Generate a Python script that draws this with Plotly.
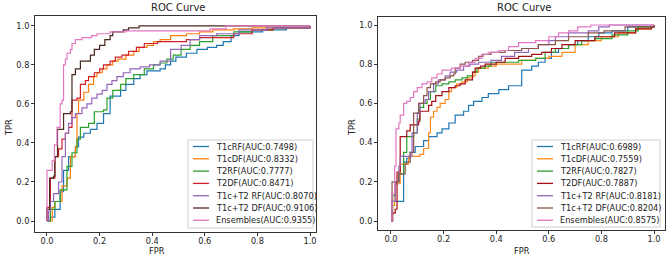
import plotly.graph_objects as go

W, H = 669, 258
FONT = "DejaVu Sans"

# ---------------- data (left panel) ----------------
L_T1cRF_fpr = [0, 0.013, 0.03, 0.05, 0.063, 0.082, 0.108, 0.12, 0.14, 0.165, 0.19, 0.215, 0.24, 0.26, 0.28, 0.30, 0.33, 0.354, 0.38, 0.43, 0.45, 0.47, 0.49, 0.53, 0.57, 0.61, 0.645, 0.67, 0.70, 0.73, 0.82, 0.91, 1.0]
L_T1cRF_tpr = [0, 0.02, 0.06, 0.15, 0.26, 0.33, 0.38, 0.43, 0.45, 0.47, 0.50, 0.55, 0.64, 0.64, 0.67, 0.70, 0.73, 0.75, 0.77, 0.78, 0.80, 0.82, 0.84, 0.86, 0.88, 0.89, 0.90, 0.92, 0.95, 0.97, 0.98, 0.99, 1.0]

L_T1cDF_fpr = [0, 0.02, 0.03, 0.057, 0.076, 0.089, 0.108, 0.114, 0.12, 0.14, 0.158, 0.177, 0.19, 0.21, 0.228, 0.25, 0.27, 0.30, 0.33, 0.35, 0.38, 0.405, 0.43, 0.47, 0.53, 0.58, 0.63, 0.71, 0.78, 1.0]
L_T1cDF_tpr = [0, 0.07, 0.10, 0.18, 0.22, 0.33, 0.38, 0.55, 0.62, 0.66, 0.70, 0.74, 0.76, 0.78, 0.80, 0.82, 0.83, 0.85, 0.87, 0.89, 0.90, 0.92, 0.93, 0.95, 0.96, 0.97, 0.98, 0.985, 0.99, 1.0]

L_T2RF_fpr = [0, 0.013, 0.03, 0.05, 0.076, 0.095, 0.114, 0.127, 0.158, 0.18, 0.215, 0.228, 0.25, 0.28, 0.30, 0.33, 0.37, 0.405, 0.43, 0.456, 0.48, 0.51, 0.544, 0.58, 0.63, 0.71, 0.78, 0.86, 1.0]
L_T2RF_tpr = [0, 0.06, 0.10, 0.16, 0.28, 0.35, 0.42, 0.48, 0.50, 0.56, 0.57, 0.63, 0.67, 0.70, 0.73, 0.75, 0.78, 0.80, 0.81, 0.83, 0.85, 0.88, 0.90, 0.92, 0.95, 0.97, 0.98, 0.99, 1.0]

L_T2DF_fpr = [0, 0, 0.013, 0.03, 0.044, 0.057, 0.07, 0.082, 0.095, 0.114, 0.127, 0.146, 0.158, 0.18, 0.20, 0.215, 0.24, 0.26, 0.285, 0.31, 0.34, 0.37, 0.42, 0.53, 0.58, 0.71, 0.78, 0.86, 1.0]
L_T2DF_tpr = [0, 0.07, 0.22, 0.33, 0.37, 0.42, 0.45, 0.48, 0.62, 0.63, 0.70, 0.72, 0.74, 0.76, 0.78, 0.80, 0.82, 0.84, 0.85, 0.87, 0.89, 0.91, 0.92, 0.93, 0.94, 0.96, 0.98, 0.99, 1.0]

L_T1cT2RF_fpr = [0, 0.006, 0.013, 0.025, 0.044, 0.057, 0.07, 0.082, 0.095, 0.108, 0.133, 0.152, 0.17, 0.19, 0.21, 0.228, 0.247, 0.266, 0.29, 0.316, 0.354, 0.39, 0.43, 0.47, 0.51, 0.544, 0.58, 0.645, 0.73, 0.835, 1.0]
L_T1cT2RF_tpr = [0, 0.05, 0.10, 0.14, 0.20, 0.33, 0.45, 0.50, 0.53, 0.55, 0.58, 0.60, 0.63, 0.65, 0.67, 0.70, 0.72, 0.74, 0.76, 0.78, 0.79, 0.80, 0.82, 0.88, 0.90, 0.93, 0.95, 0.96, 0.98, 0.99, 1.0]

L_T1cT2DF_fpr = [0, 0, 0.01, 0.025, 0.03, 0.04, 0.063, 0.089, 0.095, 0.108, 0.127, 0.152, 0.165, 0.18, 0.20, 0.22, 0.24, 0.25, 0.29, 0.31, 0.35, 1.0]
L_T1cT2DF_tpr = [0, 0.06, 0.22, 0.23, 0.33, 0.47, 0.55, 0.56, 0.75, 0.78, 0.82, 0.82, 0.85, 0.88, 0.90, 0.93, 0.95, 0.97, 0.98, 0.99, 1.0, 1.0]

L_Ens_fpr = [0, 0, 0.02, 0.028, 0.038, 0.05, 0.057, 0.063, 0.07, 0.076, 0.089, 0.095, 0.108, 0.133, 0.17, 0.19, 0.24, 0.30, 0.62, 0.68, 1.0]
L_Ens_tpr = [0, 0.26, 0.31, 0.39, 0.48, 0.60, 0.62, 0.80, 0.83, 0.86, 0.88, 0.91, 0.93, 0.94, 0.95, 0.96, 0.97, 0.975, 0.985, 1.0, 1.0]

# ---------------- data (right panel) ----------------
R_T1cRF_fpr = [0, 0.004, 0.048, 0.06, 0.073, 0.092, 0.124, 0.143, 0.175, 0.194, 0.22, 0.244, 0.276, 0.295, 0.314, 0.346, 0.37, 0.41, 0.447, 0.497, 0.535, 0.56, 0.586, 0.61, 0.637, 0.675, 0.71, 0.75, 0.79, 0.84, 0.90, 1.0]
R_T1cRF_tpr = [0, 0.10, 0.30, 0.32, 0.35, 0.38, 0.41, 0.43, 0.45, 0.47, 0.50, 0.54, 0.56, 0.59, 0.61, 0.63, 0.65, 0.67, 0.69, 0.77, 0.79, 0.81, 0.83, 0.86, 0.88, 0.90, 0.92, 0.94, 0.96, 0.97, 0.99, 1.0]

R_T1cDF_fpr = [0, 0.006, 0.014, 0.035, 0.067, 0.11, 0.124, 0.143, 0.15, 0.162, 0.175, 0.187, 0.206, 0.22, 0.23, 0.25, 0.27, 0.29, 0.31, 0.32, 0.333, 0.37, 0.40, 0.497, 0.55, 0.60, 0.65, 0.70, 0.75, 0.80, 0.865, 0.93, 0.99, 1.0]
R_T1cDF_tpr = [0, 0.08, 0.19, 0.29, 0.33, 0.34, 0.37, 0.45, 0.53, 0.56, 0.58, 0.60, 0.62, 0.66, 0.68, 0.70, 0.71, 0.73, 0.74, 0.76, 0.78, 0.79, 0.80, 0.82, 0.83, 0.84, 0.86, 0.90, 0.92, 0.94, 0.96, 0.98, 0.99, 1.0]

R_T2RF_fpr = [0, 0.006, 0.016, 0.03, 0.048, 0.06, 0.086, 0.10, 0.11, 0.124, 0.137, 0.15, 0.17, 0.194, 0.22, 0.244, 0.27, 0.29, 0.31, 0.327, 0.358, 0.38, 0.485, 0.55, 0.586, 0.625, 0.675, 0.725, 0.775, 0.84, 0.90, 0.94, 1.0]
R_T2RF_tpr = [0, 0.13, 0.20, 0.24, 0.35, 0.43, 0.45, 0.52, 0.58, 0.60, 0.62, 0.66, 0.69, 0.70, 0.71, 0.72, 0.73, 0.74, 0.76, 0.78, 0.79, 0.81, 0.82, 0.83, 0.86, 0.88, 0.90, 0.92, 0.93, 0.95, 0.97, 0.99, 1.0]

R_T2DF_fpr = [0, 0.006, 0.016, 0.023, 0.035, 0.06, 0.073, 0.105, 0.11, 0.143, 0.155, 0.17, 0.194, 0.22, 0.244, 0.263, 0.282, 0.31, 0.32, 0.34, 0.358, 0.40, 0.434, 0.485, 0.535, 0.573, 0.61, 0.65, 0.70, 0.775, 0.85, 0.93, 0.99, 1.0]
R_T2DF_tpr = [0, 0.04, 0.06, 0.25, 0.43, 0.46, 0.49, 0.51, 0.56, 0.59, 0.61, 0.64, 0.66, 0.68, 0.69, 0.70, 0.72, 0.76, 0.78, 0.79, 0.80, 0.81, 0.83, 0.84, 0.85, 0.86, 0.88, 0.90, 0.92, 0.94, 0.96, 0.98, 0.99, 1.0]

R_T1cT2RF_fpr = [0, 0.004, 0.016, 0.03, 0.035, 0.08, 0.10, 0.11, 0.13, 0.143, 0.162, 0.18, 0.206, 0.225, 0.25, 0.276, 0.30, 0.333, 0.38, 0.42, 0.47, 0.523, 0.56, 0.60, 0.625, 0.675, 0.75, 0.79, 0.83, 1.0]
R_T1cT2RF_tpr = [0, 0.10, 0.20, 0.28, 0.33, 0.45, 0.55, 0.60, 0.62, 0.66, 0.70, 0.72, 0.74, 0.76, 0.77, 0.79, 0.80, 0.81, 0.82, 0.84, 0.86, 0.88, 0.90, 0.92, 0.94, 0.96, 0.97, 0.99, 1.0, 1.0]

R_T1cT2DF_fpr = [0, 0.004, 0.03, 0.054, 0.06, 0.073, 0.086, 0.105, 0.124, 0.137, 0.15, 0.17, 0.187, 0.206, 0.225, 0.238, 0.244, 0.263, 0.282, 0.31, 0.333, 0.35, 0.38, 0.434, 0.497, 0.56, 0.625, 0.675, 0.75, 0.81, 0.89, 1.0]
R_T1cT2DF_tpr = [0, 0.20, 0.24, 0.29, 0.30, 0.35, 0.55, 0.60, 0.64, 0.68, 0.70, 0.71, 0.72, 0.73, 0.74, 0.75, 0.78, 0.80, 0.81, 0.82, 0.84, 0.85, 0.86, 0.87, 0.88, 0.90, 0.92, 0.94, 0.96, 0.97, 0.99, 1.0]

R_Ens_fpr = [0, 0.004, 0.014, 0.019, 0.03, 0.035, 0.048, 0.06, 0.073, 0.086, 0.10, 0.118, 0.137, 0.155, 0.175, 0.194, 0.23, 0.263, 0.295, 0.32, 0.345, 0.37, 0.41, 0.447, 0.485, 0.55, 0.60, 0.637, 0.675, 0.71, 0.76, 1.0]
R_Ens_tpr = [0, 0.14, 0.28, 0.47, 0.50, 0.54, 0.60, 0.61, 0.63, 0.66, 0.68, 0.70, 0.71, 0.73, 0.75, 0.77, 0.78, 0.79, 0.81, 0.83, 0.85, 0.86, 0.87, 0.89, 0.91, 0.92, 0.94, 0.96, 0.97, 0.99, 1.0, 1.0]

# labels
left_labels = ["T1cRF(AUC:0.7498)", "T1cDF(AUC:0.8332)", "T2RF(AUC:0.7777)", "T2DF(AUC:0.8471)",
               "T1c+T2 RF(AUC:0.8070)", "T1c+T2 DF(AUC:0.9106)", "Ensembles(AUC:0.9355)"]
right_labels = ["T1cRF(AUC:0.6989)", "T1cDF(AUC:0.7559)", "T2RF(AUC:0.7827)", "T2DF(AUC:0.7887)",
                "T1c+T2 RF(AUC:0.8181)", "T1c+T2 DF(AUC:0.8204)", "Ensembles(AUC:0.8575)"]
left_colors = ["#1f77b4", "#ff7f0e", "#2ca02c", "#d0202a", "#9467bd", "#4a2a20", "#e377c2"]
right_colors = ["#1f77b4", "#ff8c1a", "#2ca02c", "#a50f15", "#9467bd", "#8c564b", "#e377c2"]
tick_vals = [0, 0.2, 0.4, 0.6, 0.8, 1.0]
tick_text = ["0.0", "0.2", "0.4", "0.6", "0.8", "1.0"]

left_series = [(L_T1cRF_fpr, L_T1cRF_tpr), (L_T1cDF_fpr, L_T1cDF_tpr), (L_T2RF_fpr, L_T2RF_tpr),
               (L_T2DF_fpr, L_T2DF_tpr), (L_T1cT2RF_fpr, L_T1cT2RF_tpr), (L_T1cT2DF_fpr, L_T1cT2DF_tpr),
               (L_Ens_fpr, L_Ens_tpr)]
right_series = [(R_T1cRF_fpr, R_T1cRF_tpr), (R_T1cDF_fpr, R_T1cDF_tpr), (R_T2RF_fpr, R_T2RF_tpr),
                (R_T2DF_fpr, R_T2DF_tpr), (R_T1cT2RF_fpr, R_T1cT2RF_tpr), (R_T1cT2DF_fpr, R_T1cT2DF_tpr),
                (R_Ens_fpr, R_Ens_tpr)]


def px(x):
    return x / W


def py(y):
    return 1 - y / H


fig = go.Figure()

for (fx, ty), lab, col in zip(left_series, left_labels, left_colors):
    fig.add_trace(go.Scatter(x=fx, y=ty, mode="lines", name=lab, line=dict(color=col, width=1.2, shape="hv"),
                             xaxis="x", yaxis="y", showlegend=False, hoverinfo="skip"))
for (fx, ty), lab, col in zip(right_series, right_labels, right_colors):
    fig.add_trace(go.Scatter(x=fx, y=ty, mode="lines", name=lab, line=dict(color=col, width=1.2, shape="hv"),
                             xaxis="x2", yaxis="y2", showlegend=False, hoverinfo="skip"))

# panel geometry (pixels)
LP = dict(x0=35, x1=316, y0=16, y1=232)
RP = dict(x0=378, x1=665, y0=17, y1=230)
TXT = 8.2

axis_common = dict(showline=True, mirror=True, linecolor="#333", linewidth=1, ticks="outside", ticklen=3,
                   tickwidth=1, tickcolor="#333", showgrid=False, zeroline=False,
                   tickfont=dict(family=FONT, size=TXT, color="#222"), tickvals=tick_vals, ticktext=tick_text,
                   fixedrange=True)

fig.update_layout(
    width=W, height=H, margin=dict(l=0, r=0, t=0, b=0), paper_bgcolor="white", plot_bgcolor="white",
    showlegend=False, hovermode=False,
    xaxis=dict(domain=[px(LP["x0"]), px(LP["x1"])], range=[-0.0456, 1.0228], anchor="y",
               ticklabelstandoff=-2, **axis_common),
    yaxis=dict(domain=[py(LP["y1"]), py(LP["y0"])], range=[-0.0564, 1.051], anchor="x", **axis_common),
    xaxis2=dict(domain=[px(RP["x0"]), px(RP["x1"])], range=[-0.0494, 1.0418], anchor="y2",
                ticklabelstandoff=-2, **axis_common),
    yaxis2=dict(domain=[py(RP["y1"]), py(RP["y0"])], range=[-0.0459, 1.0408], anchor="x2", **axis_common),
)

ann = []
shapes = []
for P, fpr_x, tpr_x in ((LP, 157, 9), (RP, 522, 352)):
    cx = (P["x0"] + P["x1"]) / 2
    ann.append(dict(text="ROC Curve", x=px(cx + 2), y=py(7), xref="paper", yref="paper", showarrow=False,
                    xanchor="center", yanchor="middle", font=dict(family=FONT, size=10, color="#222")))
    ann.append(dict(text="FPR", x=px(fpr_x), y=py(251), xref="paper", yref="paper", showarrow=False,
                    xanchor="center", yanchor="middle", font=dict(family=FONT, size=TXT, color="#222")))
    ann.append(dict(text="TPR", x=px(tpr_x), y=py(128), xref="paper", yref="paper", showarrow=False,
                    textangle=-90, xanchor="center", yanchor="middle",
                    font=dict(family=FONT, size=TXT, color="#222")))

# manual legends (matplotlib style)
for box, labels, colors in (((188, 140, 313, 228), left_labels, left_colors),
                            ((532, 140, 660, 227), right_labels, right_colors)):
    bx0, by0, bx1, by1 = box
    shapes.append(dict(type="rect", xref="paper", yref="paper", x0=px(bx0), x1=px(bx1), y0=py(by1), y1=py(by0),
                       line=dict(color="#cfcfcf", width=1), fillcolor="rgba(255,255,255,0.85)", layer="above"))
    for i, (lab, col) in enumerate(zip(labels, colors)):
        yc = by0 + 6.5 + i * 12.3
        shapes.append(dict(type="line", xref="paper", yref="paper", x0=px(bx0 + 5), x1=px(bx0 + 21),
                           y0=py(yc), y1=py(yc), line=dict(color=col, width=1.3), layer="above"))
        ann.append(dict(text=lab, x=px(bx0 + 26), y=py(yc), xref="paper", yref="paper", showarrow=False,
                        xanchor="left", yanchor="middle", font=dict(family=FONT, size=TXT, color="#222")))

fig.update_layout(annotations=ann, shapes=shapes)
fig.write_html("out.html", config={"displayModeBar": False, "staticPlot": True},
               post_script="document.body.style.margin='0';document.body.style.overflow='hidden';")
